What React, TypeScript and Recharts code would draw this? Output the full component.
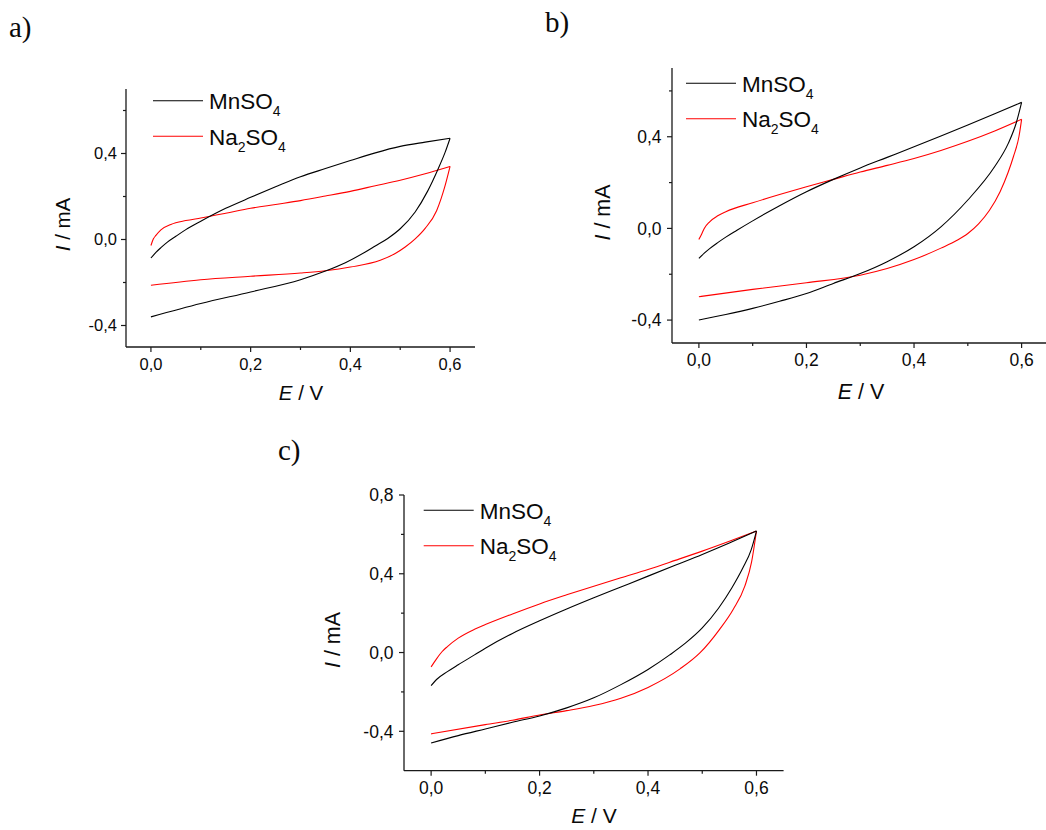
import { LineChart, Line, XAxis, YAxis } from 'recharts'

type Pt = { e: number; i: number }

// panel a
const aMnUp: Pt[] = [
  { e: 0, i: -0.086 }, { e: 0.01, i: -0.06 }, { e: 0.02, i: -0.038 }, { e: 0.033, i: -0.012 },
  { e: 0.05, i: 0.015 }, { e: 0.07, i: 0.046 }, { e: 0.1, i: 0.085 }, { e: 0.15, i: 0.145 },
  { e: 0.2, i: 0.196 }, { e: 0.25, i: 0.245 }, { e: 0.3, i: 0.292 }, { e: 0.35, i: 0.33 },
  { e: 0.4, i: 0.367 }, { e: 0.45, i: 0.403 }, { e: 0.5, i: 0.433 }, { e: 0.55, i: 0.453 },
  { e: 0.6, i: 0.471 },
]
const aMnDown: Pt[] = [
  { e: 0, i: -0.36 }, { e: 0.1, i: -0.298 }, { e: 0.2, i: -0.244 }, { e: 0.3, i: -0.187 },
  { e: 0.35, i: -0.147 }, { e: 0.39, i: -0.108 }, { e: 0.43, i: -0.058 }, { e: 0.45, i: -0.03 },
  { e: 0.475, i: 0.005 }, { e: 0.5, i: 0.05 }, { e: 0.53, i: 0.128 }, { e: 0.555, i: 0.225 },
  { e: 0.576, i: 0.328 }, { e: 0.59, i: 0.405 }, { e: 0.6, i: 0.471 },
]
const aNaUp: Pt[] = [
  { e: 0, i: -0.028 }, { e: 0.005, i: 0.003 }, { e: 0.01, i: 0.019 }, { e: 0.02, i: 0.045 },
  { e: 0.04, i: 0.07 }, { e: 0.07, i: 0.088 }, { e: 0.1, i: 0.1 }, { e: 0.15, i: 0.122 },
  { e: 0.2, i: 0.145 }, { e: 0.25, i: 0.163 }, { e: 0.3, i: 0.181 }, { e: 0.35, i: 0.202 },
  { e: 0.4, i: 0.224 }, { e: 0.45, i: 0.25 }, { e: 0.5, i: 0.276 }, { e: 0.55, i: 0.306 },
  { e: 0.6, i: 0.34 },
]
const aNaDown: Pt[] = [
  { e: 0, i: -0.213 }, { e: 0.1, i: -0.187 }, { e: 0.2, i: -0.171 }, { e: 0.3, i: -0.156 },
  { e: 0.35, i: -0.145 }, { e: 0.4, i: -0.128 }, { e: 0.46, i: -0.097 }, { e: 0.49, i: -0.065 },
  { e: 0.51, i: -0.035 }, { e: 0.53, i: 0.003 }, { e: 0.55, i: 0.052 }, { e: 0.573, i: 0.134 },
  { e: 0.582, i: 0.19 }, { e: 0.589, i: 0.242 }, { e: 0.6, i: 0.34 },
]

// panel b
const bMnUp: Pt[] = [
  { e: 0, i: -0.131 }, { e: 0.01, i: -0.108 }, { e: 0.02, i: -0.088 }, { e: 0.035, i: -0.062 },
  { e: 0.05, i: -0.038 }, { e: 0.07, i: -0.009 }, { e: 0.1, i: 0.033 }, { e: 0.15, i: 0.099 },
  { e: 0.2, i: 0.16 }, { e: 0.25, i: 0.214 }, { e: 0.3, i: 0.264 }, { e: 0.35, i: 0.31 },
  { e: 0.4, i: 0.356 }, { e: 0.45, i: 0.403 }, { e: 0.5, i: 0.451 }, { e: 0.55, i: 0.5 },
  { e: 0.6, i: 0.55 },
]
const bMnDown: Pt[] = [
  { e: 0, i: -0.4 }, { e: 0.05, i: -0.376 }, { e: 0.1, i: -0.349 }, { e: 0.15, i: -0.318 },
  { e: 0.2, i: -0.284 }, { e: 0.25, i: -0.24 }, { e: 0.3, i: -0.197 }, { e: 0.35, i: -0.145 },
  { e: 0.4, i: -0.08 }, { e: 0.45, i: 0.007 }, { e: 0.5, i: 0.124 }, { e: 0.55, i: 0.27 },
  { e: 0.575, i: 0.37 }, { e: 0.59, i: 0.46 }, { e: 0.6, i: 0.55 },
]
const bNaUp: Pt[] = [
  { e: 0, i: -0.048 }, { e: 0.005, i: -0.025 }, { e: 0.01, i: 0 }, { e: 0.02, i: 0.029 },
  { e: 0.035, i: 0.055 }, { e: 0.05, i: 0.073 }, { e: 0.1, i: 0.112 }, { e: 0.15, i: 0.148 },
  { e: 0.2, i: 0.182 }, { e: 0.25, i: 0.214 }, { e: 0.3, i: 0.246 }, { e: 0.35, i: 0.275 },
  { e: 0.4, i: 0.305 }, { e: 0.45, i: 0.34 }, { e: 0.5, i: 0.38 }, { e: 0.55, i: 0.425 },
  { e: 0.6, i: 0.476 },
]
const bNaDown: Pt[] = [
  { e: 0, i: -0.298 }, { e: 0.1, i: -0.266 }, { e: 0.2, i: -0.237 }, { e: 0.3, i: -0.204 },
  { e: 0.35, i: -0.175 }, { e: 0.4, i: -0.136 }, { e: 0.45, i: -0.086 }, { e: 0.48, i: -0.052 },
  { e: 0.5, i: -0.022 }, { e: 0.52, i: 0.02 }, { e: 0.54, i: 0.078 }, { e: 0.56, i: 0.16 },
  { e: 0.575, i: 0.245 }, { e: 0.585, i: 0.315 }, { e: 0.595, i: 0.4 }, { e: 0.6, i: 0.476 },
]

// panel c
const cMnUp: Pt[] = [
  { e: 0, i: -0.168 }, { e: 0.01, i: -0.137 }, { e: 0.03, i: -0.097 }, { e: 0.05, i: -0.062 },
  { e: 0.08, i: -0.012 }, { e: 0.1, i: 0.022 }, { e: 0.15, i: 0.097 }, { e: 0.2, i: 0.161 },
  { e: 0.25, i: 0.221 }, { e: 0.3, i: 0.278 }, { e: 0.35, i: 0.333 }, { e: 0.4, i: 0.388 },
  { e: 0.45, i: 0.443 }, { e: 0.5, i: 0.498 }, { e: 0.55, i: 0.556 }, { e: 0.6, i: 0.617 },
]
const cMnDown: Pt[] = [
  { e: 0, i: -0.459 }, { e: 0.05, i: -0.422 }, { e: 0.1, i: -0.388 }, { e: 0.15, i: -0.354 },
  { e: 0.2, i: -0.322 }, { e: 0.25, i: -0.281 }, { e: 0.3, i: -0.23 }, { e: 0.35, i: -0.163 },
  { e: 0.4, i: -0.086 }, { e: 0.44, i: -0.012 }, { e: 0.47, i: 0.05 }, { e: 0.5, i: 0.125 },
  { e: 0.53, i: 0.225 }, { e: 0.555, i: 0.33 }, { e: 0.575, i: 0.43 }, { e: 0.59, i: 0.52 },
  { e: 0.6, i: 0.617 },
]
const cNaUp: Pt[] = [
  { e: 0, i: -0.073 }, { e: 0.01, i: -0.032 }, { e: 0.02, i: 0.004 }, { e: 0.03, i: 0.03 },
  { e: 0.05, i: 0.073 }, { e: 0.08, i: 0.118 }, { e: 0.1, i: 0.142 }, { e: 0.15, i: 0.196 },
  { e: 0.2, i: 0.247 }, { e: 0.25, i: 0.293 }, { e: 0.3, i: 0.337 }, { e: 0.35, i: 0.38 },
  { e: 0.4, i: 0.422 }, { e: 0.45, i: 0.468 }, { e: 0.5, i: 0.515 }, { e: 0.55, i: 0.565 },
  { e: 0.6, i: 0.617 },
]
const cNaDown: Pt[] = [
  { e: 0, i: -0.413 }, { e: 0.1, i: -0.366 }, { e: 0.15, i: -0.344 }, { e: 0.2, i: -0.317 },
  { e: 0.25, i: -0.295 }, { e: 0.3, i: -0.269 }, { e: 0.35, i: -0.232 }, { e: 0.4, i: -0.177 },
  { e: 0.459, i: -0.083 }, { e: 0.4956, i: -0.002 }, { e: 0.532, i: 0.118 }, { e: 0.557, i: 0.219 },
  { e: 0.5785, i: 0.337 }, { e: 0.591, i: 0.46 }, { e: 0.6, i: 0.617 },
]

const xTicks = [0, 0.1, 0.2, 0.3, 0.4, 0.5, 0.6]
const xMajor = [0, 0.2, 0.4, 0.6]
const yTicksAB = [-0.4, -0.2, 0, 0.2, 0.4, 0.6]
const yMajorAB = [-0.4, 0, 0.4]
const yTicksC = [-0.4, -0.2, 0, 0.2, 0.4, 0.6, 0.8]
const yMajorC = [-0.4, 0, 0.4, 0.8]

const FONT = '"Liberation Sans", Arial, sans-serif'
const AXIS = '#1a1a1a'
const INK = '#0a0a0a'

const fmt = (v: number) => v.toFixed(1).replace('.', ',')
const isMajor = (v: number, majors: number[]) => majors.some((m) => Math.abs(m - v) < 1e-6)

interface PanelProps {
  left: number
  top: number
  plotW: number
  plotH: number
  yDomain: [number, number]
  yTicks: number[]
  yMajor: number[]
  fontSize: number
  yLabelGap: number
  mnUp: Pt[]
  mnDown: Pt[]
  naUp: Pt[]
  naDown: Pt[]
}

function Panel(p: PanelProps) {
  const W = p.plotW + 90
  const H = p.plotH + 80

  const xTick = (props: any) => {
    const { x, y, payload } = props
    const major = isMajor(payload.value, xMajor)
    return (
      <g>
        <line x1={x} y1={y} x2={x} y2={y + (major ? 5 : 3)} stroke={AXIS} strokeWidth={1.2} />
        {major && (
          <text x={x} y={y + 23} textAnchor="middle" fontSize={p.fontSize} fontFamily={FONT} fill={INK}>
            {fmt(payload.value)}
          </text>
        )}
      </g>
    )
  }

  const yTick = (props: any) => {
    const { x, y, payload } = props
    const major = isMajor(payload.value, p.yMajor)
    return (
      <g>
        <line x1={x} y1={y} x2={x - (major ? 5 : 3)} y2={y} stroke={AXIS} strokeWidth={1.2} />
        {major && (
          <text x={x - p.yLabelGap} y={y + p.fontSize * 0.36} textAnchor="end" fontSize={p.fontSize} fontFamily={FONT} fill={INK}>
            {fmt(payload.value)}
          </text>
        )}
      </g>
    )
  }

  return (
    <div style={{ position: 'absolute', left: p.left - 80, top: p.top - 10, width: W, height: H }}>
      <LineChart width={W} height={H} margin={{ top: 10, right: 10, left: 0, bottom: 0 }}>
        <XAxis
          type="number"
          dataKey="e"
          domain={[-0.05, 0.65]}
          ticks={xTicks}
          interval={0}
          tickSize={0}
          tickMargin={0}
          height={70}
          axisLine={{ stroke: AXIS, strokeWidth: 1.3 }}
          tickLine={false}
          tick={xTick}
        />
        <YAxis
          type="number"
          dataKey="i"
          domain={p.yDomain}
          ticks={p.yTicks}
          interval={0}
          tickSize={0}
          tickMargin={0}
          width={80}
          axisLine={{ stroke: AXIS, strokeWidth: 1.3 }}
          tickLine={false}
          tick={yTick}
        />
        <Line data={p.naUp} dataKey="i" type="monotone" stroke="#ff0000" strokeWidth={1.1} dot={false} isAnimationActive={false} />
        <Line data={p.naDown} dataKey="i" type="monotone" stroke="#ff0000" strokeWidth={1.1} dot={false} isAnimationActive={false} />
        <Line data={p.mnUp} dataKey="i" type="monotone" stroke="#000" strokeWidth={1.1} dot={false} isAnimationActive={false} />
        <Line data={p.mnDown} dataKey="i" type="monotone" stroke="#000" strokeWidth={1.1} dot={false} isAnimationActive={false} />
      </LineChart>
    </div>
  )
}

function Legend({ x, y }: { x: number; y: number }) {
  const sub = { fontSize: 14 }
  return (
    <g fontFamily={FONT} fontSize={22.5} fill={INK}>
      <line x1={x} y1={y} x2={x + 50} y2={y} stroke="#000" strokeWidth={1.1} />
      <text x={x + 56} y={y + 8.5}>
        MnSO<tspan {...sub} dy={7}>4</tspan>
      </text>
      <line x1={x} y1={y + 35.5} x2={x + 50} y2={y + 35.5} stroke="#ff0000" strokeWidth={1.1} />
      <text x={x + 56} y={y + 44}>
        Na<tspan {...sub} dy={7}>2</tspan>
        <tspan dy={-7}>SO</tspan>
        <tspan {...sub} dy={7}>4</tspan>
      </text>
    </g>
  )
}

function YTitle({ cx, cy, size }: { cx: number; cy: number; size: number }) {
  return (
    <text transform={`translate(${cx},${cy}) rotate(-90)`} textAnchor="middle" dominantBaseline="central" fontFamily={FONT} fontSize={size} fill={INK}>
      <tspan fontStyle="italic">I</tspan> / mA
    </text>
  )
}

function XTitle({ cx, y, size }: { cx: number; y: number; size: number }) {
  return (
    <text x={cx} y={y} textAnchor="middle" fontFamily={FONT} fontSize={size} fill={INK}>
      <tspan fontStyle="italic">E</tspan> / V
    </text>
  )
}

export default function App() {
  return (
    <div style={{ position: 'absolute', left: 0, top: 0, width: 1046, height: 830, overflow: 'hidden', background: '#fff' }}>
      <Panel left={126} top={89} plotW={349} plotH={258} yDomain={[-0.5, 0.7]} yTicks={yTicksAB} yMajor={yMajorAB}
        fontSize={16.5} yLabelGap={9} mnUp={aMnUp} mnDown={aMnDown} naUp={aNaUp} naDown={aNaDown} />
      <Panel left={672.3} top={68.3} plotW={376.5} plotH={275} yDomain={[-0.5, 0.7]} yTicks={yTicksAB} yMajor={yMajorAB}
        fontSize={17.5} yLabelGap={10.5} mnUp={bMnUp} mnDown={bMnDown} naUp={bNaUp} naDown={bNaDown} />
      <Panel left={403.7} top={495} plotW={379.6} plotH={275.7} yDomain={[-0.6, 0.8]} yTicks={yTicksC} yMajor={yMajorC}
        fontSize={17.5} yLabelGap={10.5} mnUp={cMnUp} mnDown={cMnDown} naUp={cNaUp} naDown={cNaDown} />

      <svg width={1046} height={830} style={{ position: 'absolute', left: 0, top: 0, pointerEvents: 'none' }}>
        <g fontFamily='"Liberation Serif", "Times New Roman", serif' fontSize={29} fill={INK}>
          <text x={9} y={37}>a)</text>
          <text x={545} y={32}>b)</text>
          <text x={278} y={460}>c)</text>
        </g>
        <Legend x={153} y={100.7} />
        <Legend x={686} y={83.3} />
        <Legend x={423.7} y={510.3} />
        <YTitle cx={62} cy={224.5} size={20.5} />
        <YTitle cx={602.5} cy={212.5} size={21.5} />
        <YTitle cx={333} cy={640} size={21.5} />
        <XTitle cx={301} y={400} size={20.5} />
        <XTitle cx={861} y={399} size={21.5} />
        <XTitle cx={594} y={823} size={21} />
      </svg>
    </div>
  )
}
